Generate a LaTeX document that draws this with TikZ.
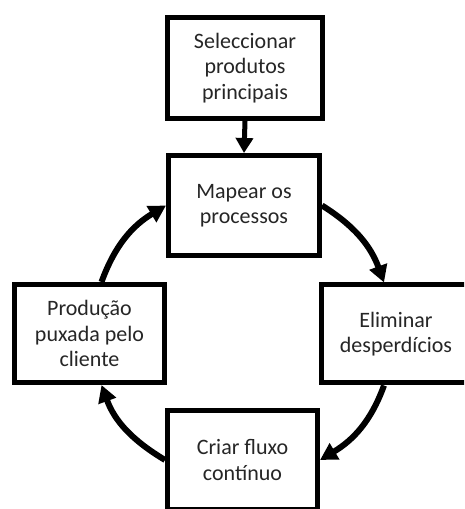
\documentclass[tikz,border=0pt]{standalone}
\usepackage{fontspec}
\setmainfont{Carlito}
\usetikzlibrary{arrows.meta}
\begin{document}
\begin{tikzpicture}[x=1pt,y=1pt,
  stage/.style={draw=black, line width=5pt, fill=white, align=center,
    inner sep=0pt, text=black!85,
    font=\fontsize{22}{25.5}\selectfont},
  flow/.style={line width=6pt, -{Triangle[length=17pt,width=18pt]}},
  feed/.style={line width=5pt, -{Triangle[length=15pt,width=17pt]}}]
  \useasboundingbox (0,0) rectangle (464,509);
  \clip (0,0) rectangle (464,509);
  % stages
  \node[stage, minimum width=155pt, minimum height=101pt] (sel) at (245,441)
    {Seleccionar\\produtos\\principais};
  \node[stage, minimum width=151pt, minimum height=100pt] (map) at (244,303.5)
    {Mapear os\\processos};
  \node[stage, minimum width=150pt, minimum height=98pt] (elim) at (396,175)
    {Eliminar\\desperdícios};
  \node[stage, minimum width=150pt, minimum height=99pt] (fluxo) at (242.5,49)
    {Criar fluxo\\contínuo};
  \node[stage, minimum width=150pt, minimum height=98pt] (puxada) at (89.5,175.5)
    {Produção\\puxada pelo\\cliente};
  % connectors
  \draw[feed] (sel.south) -- (map.north);
  \draw[flow] (map.east) to[out=-32, in=110] ([xshift=-12pt]elim.north);
  \draw[flow] ([xshift=-12pt]elim.south) to[out=-110, in=31] (fluxo.east);
  \draw[flow] (fluxo.west) to[out=149, in=-70] ([xshift=12pt]puxada.south);
  \draw[flow] ([xshift=12pt]puxada.north) to[out=70, in=-149] (map.west);
\end{tikzpicture}
\end{document}
